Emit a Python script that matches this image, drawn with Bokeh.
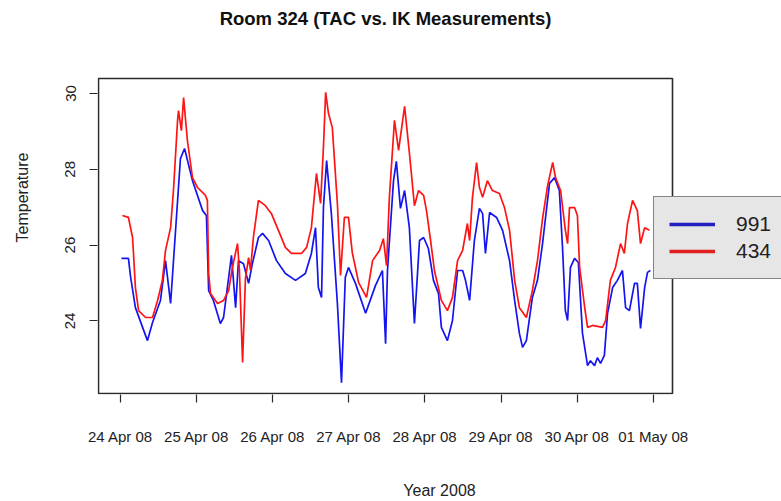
from bokeh.plotting import figure
from bokeh.models import FixedTicker, Legend, LegendItem, BoxAnnotation, Label
from bokeh.embed import file_html
from bokeh.resources import INLINE

# Hours since 24 Apr 2008 00:00
hours_991 = [0.3, 2.5, 3.2, 4.7, 8.5, 10.1, 12.6, 14.2, 15.8, 18.9, 20.2, 22.7, 25.9, 27.1, 27.8,
             29.3, 31.5, 32.5, 35.0, 36.3, 37.2, 38.8, 40.4, 41.6, 43.5, 44.8, 46.7, 49.2, 52.0,
             55.2, 58.3, 60.2, 61.5, 62.4, 63.4, 64.0, 65.0, 66.5, 68.4, 69.7, 70.9, 71.9, 74.1,
             77.3, 80.4, 82.6, 83.6, 84.2, 86.1, 87.0, 88.3, 89.6, 91.1, 92.7, 94.3, 95.6, 97.1,
             98.7, 100.3, 101.2, 103.1, 104.7, 106.3, 107.9, 108.8, 110.1, 111.6, 113.2, 114.2,
             115.1, 116.4, 118.6, 120.5, 122.7, 124.3, 125.8, 126.8, 128.0, 129.9, 131.5, 133.1,
             134.3, 135.3, 136.9, 138.4, 139.4, 140.3, 141.0, 141.9, 143.2, 144.4, 145.7, 147.3,
             148.2, 149.5, 150.4, 151.4, 152.6, 153.6, 155.2, 156.7, 158.3, 159.3, 160.5, 162.1,
             163.0, 164.0, 165.3, 166.2, 167.1]
temp_991 = [25.65, 25.65, 25.15, 24.35, 23.48, 23.96, 24.54, 25.59, 24.46, 28.28, 28.55, 27.70,
            26.91, 26.78, 24.80, 24.54, 23.93, 24.09, 25.73, 24.35, 25.59, 25.51, 24.99, 25.51,
            26.20, 26.31, 26.12, 25.59, 25.25, 25.07, 25.25, 25.78, 26.46, 24.88, 24.62, 26.99,
            28.23, 26.83, 24.46, 22.37, 25.15, 25.41, 24.99, 24.20, 24.93, 25.33, 23.40, 25.33,
            27.70, 28.21, 26.97, 27.44, 26.46, 23.93, 26.12, 26.20, 25.91, 25.07, 24.72, 23.83,
            23.48, 24.01, 25.33, 25.33, 25.07, 24.54, 26.12, 26.97, 26.83, 25.78, 26.86, 26.73,
            26.39, 25.59, 24.54, 23.67, 23.30, 23.48, 24.62, 25.07, 26.04, 26.91, 27.63, 27.78,
            27.44, 25.94, 24.27, 24.01, 25.41, 25.65, 25.54, 23.67, 22.82, 22.95, 22.82, 23.03,
            22.88, 23.09, 24.20, 24.88, 25.07, 25.33, 24.35, 24.27, 24.99, 24.99, 23.80, 24.88,
            25.28, 25.33]

hours_434 = [0.6, 2.5, 3.8, 4.1, 4.7, 5.7, 7.9, 10.1, 11.7, 13.2, 14.2, 15.8, 16.7, 18.0, 18.3,
             19.2, 19.9, 21.1, 22.7, 24.3, 26.8, 27.4, 27.8, 28.4, 30.6, 32.5, 34.1, 35.3, 36.9,
             37.5, 38.5, 39.4, 40.4, 41.0, 41.9, 43.5, 45.7, 47.6, 49.8, 52.0, 53.9, 57.1, 58.7,
             60.2, 61.8, 63.1, 64.0, 64.7, 65.6, 66.8, 68.4, 69.4, 70.6, 71.9, 73.1, 75.1, 77.6,
             79.5, 81.7, 82.9, 83.9, 84.8, 86.4, 87.7, 89.6, 91.1, 92.7, 94.0, 95.6, 96.5, 97.8,
             99.0, 101.2, 103.1, 104.7, 106.3, 107.9, 109.4, 110.1, 111.0, 112.3, 113.2, 114.2,
             115.7, 117.3, 119.5, 121.1, 122.7, 124.3, 125.8, 128.0, 129.9, 131.5, 133.1, 134.7,
             136.3, 137.2, 138.8, 140.3, 141.0, 141.6, 143.2, 144.1, 144.8, 146.4, 147.3, 148.9,
             152.0, 153.0, 154.5, 156.1, 157.7, 158.9, 159.9, 161.5, 163.0, 164.0, 165.3, 166.8]
temp_434 = [26.78, 26.73, 26.20, 25.78, 24.88, 24.27, 24.09, 24.09, 24.54, 25.07, 25.86, 26.46,
            27.44, 29.29, 29.55, 29.02, 29.89, 28.76, 27.78, 27.52, 27.31, 27.18, 25.25, 24.72,
            24.46, 24.54, 24.80, 25.41, 26.04, 25.33, 22.90, 25.12, 25.67, 25.33, 26.20, 27.18,
            27.04, 26.83, 26.39, 25.94, 25.78, 25.78, 25.94, 26.46, 27.89, 27.10, 28.58, 30.03,
            29.47, 29.10, 27.10, 25.20, 26.73, 26.73, 25.80, 25.01, 24.62, 25.59, 25.86, 26.17,
            25.46, 27.26, 29.29, 28.50, 29.66, 28.44, 27.04, 27.44, 27.31, 26.91, 26.12, 25.33,
            24.54, 24.27, 24.62, 25.59, 25.86, 26.57, 26.12, 27.26, 28.18, 27.52, 27.26, 27.70,
            27.44, 27.36, 26.99, 26.39, 25.07, 24.35, 24.09, 24.80, 25.59, 26.70, 27.57, 28.18,
            27.78, 27.44, 26.39, 26.04, 26.99, 26.99, 26.78, 25.41, 24.35, 23.83, 23.88, 23.83,
            24.01, 25.07, 25.41, 26.04, 25.78, 26.57, 27.18, 26.91, 26.04, 26.46, 26.39]

x_tick_hours = [0, 24, 48, 72, 96, 120, 144, 168]
x_tick_labels = ["24 Apr 08", "25 Apr 08", "26 Apr 08", "27 Apr 08",
                 "28 Apr 08", "29 Apr 08", "30 Apr 08", "01 May 08"]
y_ticks = [24, 26, 28, 30]
series_names = ["991", "434"]
title_text = "Room 324 (TAC vs. IK Measurements)"

FONT = "Liberation Sans"
BLUE = "#1414f0"
RED = "#ff1414"

# layout scale (page pixels <-> data), used only for placing the frame/box/title
PX_PER_HOUR = 76.1 / 24.0
PX_PER_DEG = 37.9
def hx(px):
    return (px - 120) / PX_PER_HOUR
def ty(py):
    return 30 - (py - 93) / PX_PER_DEG

W, H = 781, 501
FL, FB = 97, 394  # frame left / bottom (page px)

p = figure(width=W, height=H, output_backend="svg", toolbar_location=None,
           x_range=(hx(FL), hx(W)), y_range=(ty(FB), ty(0)),
           min_border_left=FL, min_border_right=0, min_border_top=0,
           min_border_bottom=H - FB)

p.xgrid.visible = False
p.ygrid.visible = False
p.outline_line_color = None

r1 = p.line(hours_991, temp_991, line_color=BLUE, line_width=1.7)
r2 = p.line(hours_434, temp_434, line_color=RED, line_width=1.7)
# single-point renderers (draw nothing) used only for thicker legend swatches
lg1 = p.line(hours_991[:1], temp_991[:1], line_color="#2020c0", line_width=3.5)
lg2 = p.line(hours_434[:1], temp_434[:1], line_color="#e02020", line_width=3.5)

# plot box (R style)
box = BoxAnnotation(left=hx(98), right=hx(672), bottom=ty(393), top=ty(78),
                    fill_alpha=0, line_color="#2a2a2a", line_alpha=1, line_width=1.6)
p.add_layout(box)

title = Label(x=(hx(98) + hx(672)) / 2, y=ty(18), text=title_text,
              text_align="center", text_baseline="middle",
              text_font=FONT, text_font_size="18.5px", text_font_style="bold",
              text_color="#111111")
p.add_layout(title)

xa = p.xaxis[0]
xa.ticker = FixedTicker(ticks=x_tick_hours)
xa.major_label_overrides = {h: s for h, s in zip(x_tick_hours, x_tick_labels)}
xa.axis_label = "Year 2008"
ya = p.yaxis[0]
ya.ticker = FixedTicker(ticks=y_ticks)
ya.axis_label = "Temperature"
ya.major_label_orientation = "vertical"

for ax in (xa, ya):
    ax.axis_line_color = None
    ax.minor_tick_line_color = None
    ax.major_tick_in = 0
    ax.major_tick_out = 8
    ax.major_tick_line_color = "#2a2a2a"
    ax.major_tick_line_width = 1.2
    ax.major_label_text_font = FONT
    ax.major_label_text_font_size = "15px"
    ax.major_label_text_color = "#222222"
    ax.axis_label_text_font = FONT
    ax.axis_label_text_font_size = "16px"
    ax.axis_label_text_font_style = "normal"
    ax.axis_label_text_color = "#222222"

xa.major_label_standoff = 25
xa.axis_label_standoff = 34
ya.major_label_standoff = 14
ya.axis_label_standoff = 32

legend = Legend(items=[LegendItem(label=series_names[0], renderers=[lg1]),
                       LegendItem(label=series_names[1], renderers=[lg2])],
                location=(556, 115))
legend.background_fill_color = "#e6e6e6"
legend.background_fill_alpha = 1
legend.border_line_color = "#222222"
legend.border_line_width = 1.5
legend.padding = 15
legend.margin = 0
legend.spacing = 3
legend.glyph_width = 46
legend.glyph_height = 20
legend.label_height = 20
legend.label_standoff = 21
legend.label_text_font = FONT
legend.label_text_font_size = "21px"
legend.label_text_color = "#222222"
p.add_layout(legend, "center")

open("out.html", "w").write(file_html(p, INLINE))
